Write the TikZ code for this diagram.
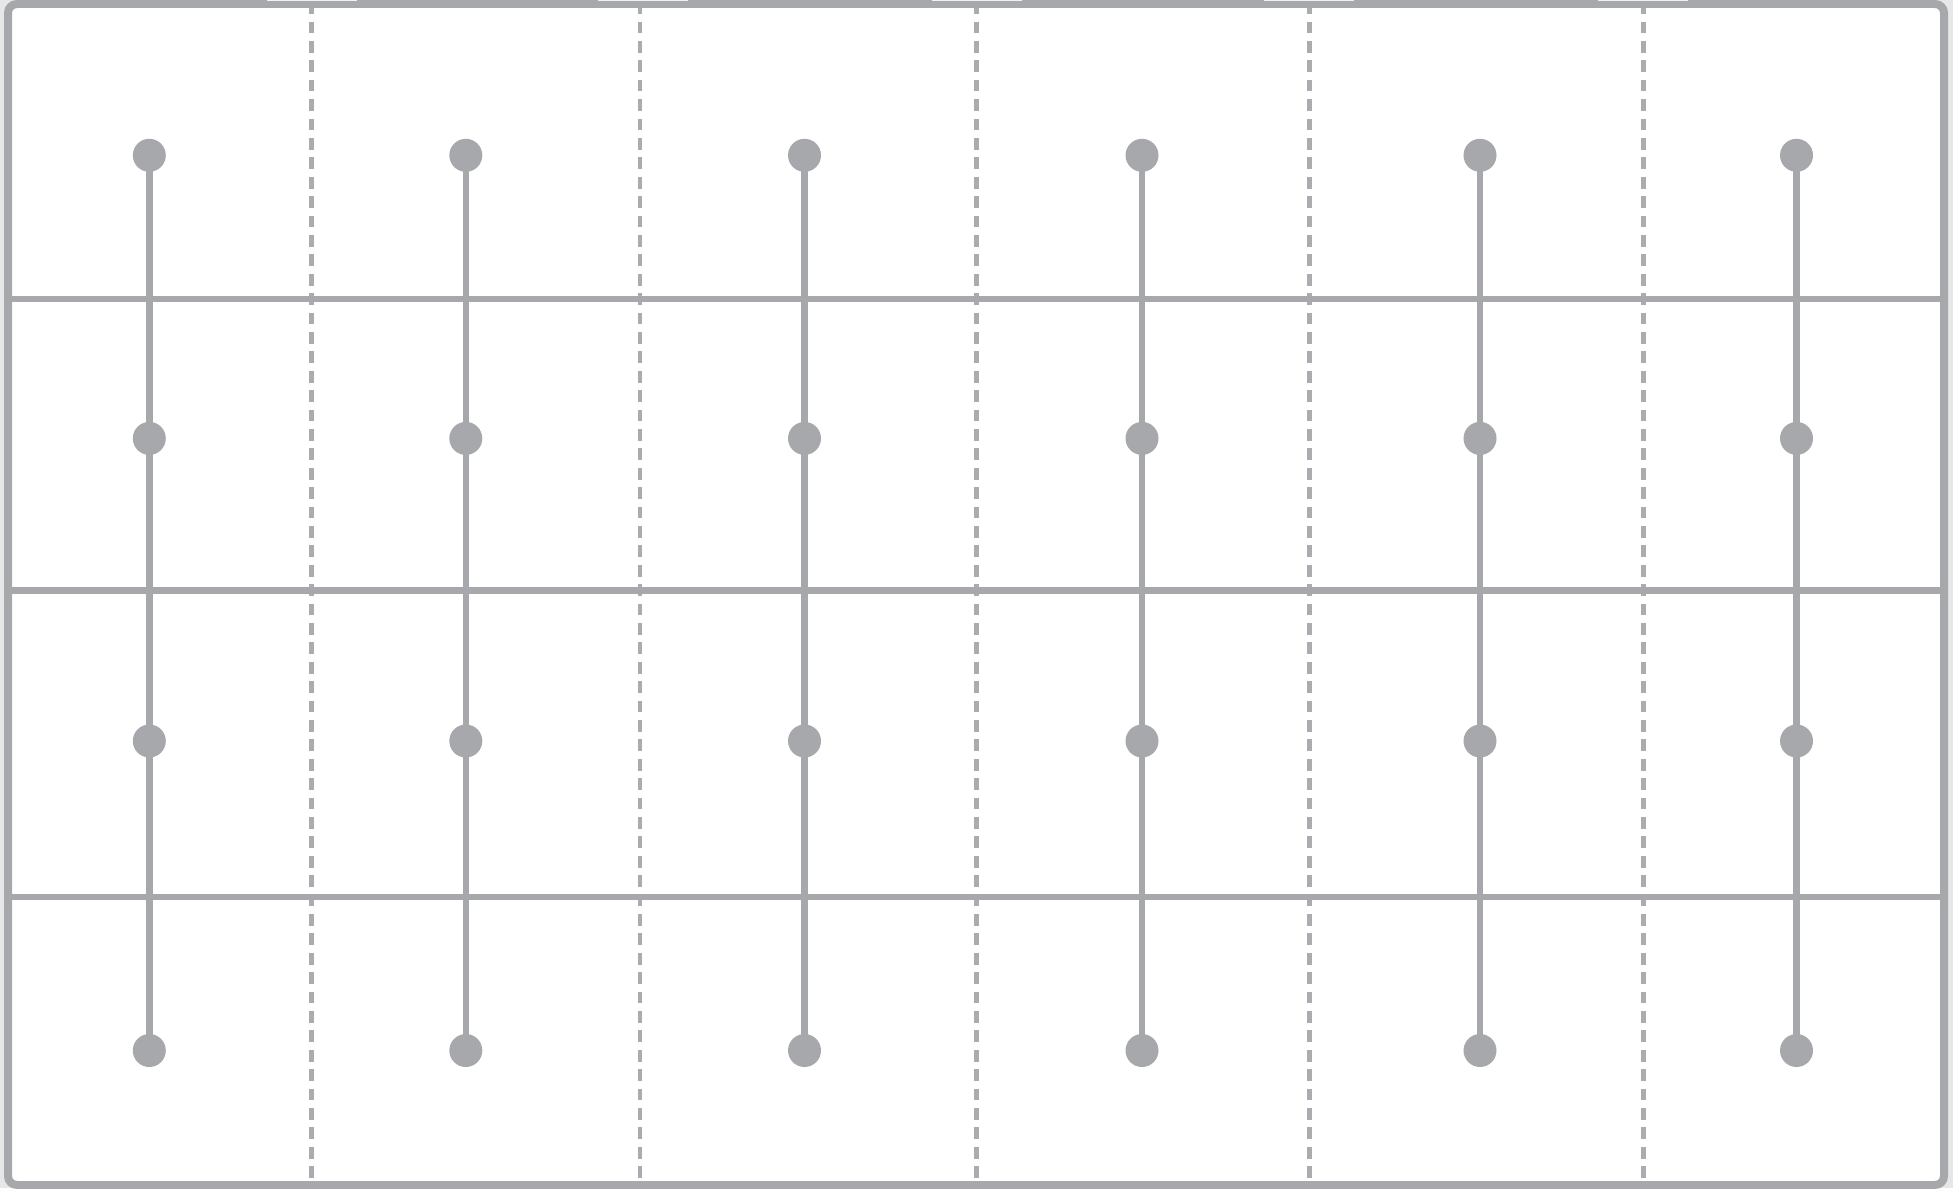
\documentclass[tikz,border=0pt]{standalone}
\usetikzlibrary{backgrounds}
\definecolor{lg}{HTML}{A7A8AB}
\definecolor{bg}{HTML}{E6E7E8}
\tikzset{
  solidline/.style={draw=lg, line width=6.5pt},
  dashline/.style={draw=lg!95!white, line width=4.6pt, dash pattern=on 11.7pt off 7.7pt},
  dotnode/.style={circle, fill=lg, inner sep=0pt, minimum size=33pt},
  frame/.style={draw=lg, line width=8pt, rounded corners=9pt},
  tab/.style={fill=bg!60!white, draw=none}
}
\begin{document}
\begin{tikzpicture}[x=1pt,y=-1pt]
\useasboundingbox (0,0) rectangle (1953,1188);
\fill[bg] (0,0) rectangle (1953,1188);
\fill[white, rounded corners=9pt] (8,4) rectangle (1944,1185);
% dashed verticals
\foreach \x/\n in {311.5/d1,640/d2,976.7/d3,1309.3/d4,1643.2/d5} {
  \coordinate (\n t) at (\x,2.2);
  \coordinate (\n b) at (\x,1182);
  \draw[dashline] (\n t) -- (\n b);
}
% horizontal lines
\foreach \y/\n in {299/h1,590.5/h2,897/h3} {
  \coordinate (\n l) at (8,\y);
  \coordinate (\n r) at (1944,\y);
  \draw[solidline] (\n l) -- (\n r);
}
% stems with dots
\foreach \x/\c in {149.3/a,465.8/b,804.5/c,1142/d,1480/e,1796.5/f} {
  \node[dotnode] (\c1) at (\x,155.3) {};
  \node[dotnode] (\c2) at (\x,438.4) {};
  \node[dotnode] (\c3) at (\x,741) {};
  \node[dotnode] (\c4) at (\x,1050.5) {};
  \draw[solidline] (\c1.center) -- (\c4.center);
}
% frame
\draw[frame] (8,4) rectangle (1944,1185);
% light tabs at top edge
\foreach \x in {311.5,643,976.7,1309.3,1643.2} {
  \fill[tab] (\x-45,0) rectangle (\x+45,1.4);
}
\end{tikzpicture}
\end{document}
